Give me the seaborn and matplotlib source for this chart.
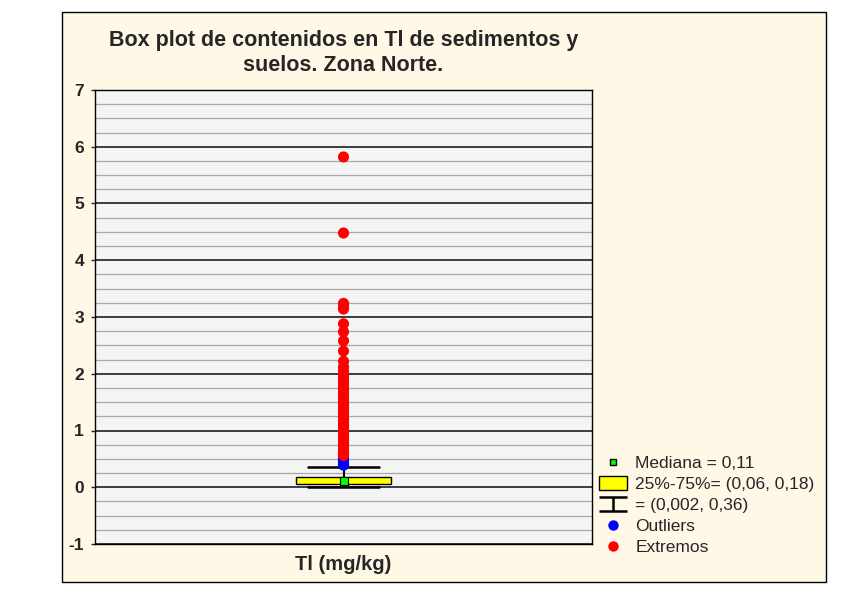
import matplotlib
matplotlib.use("Agg")
import matplotlib.pyplot as plt
import seaborn as sns
import pandas as pd
import numpy as np
from matplotlib.lines import Line2D
from matplotlib.patches import Patch, Rectangle
from matplotlib.path import Path

# --- data ---
median = 0.11
q1, q3 = 0.06, 0.18
whisk_lo, whisk_hi = 0.002, 0.36
outliers = [0.39, 0.41, 0.43, 0.45, 0.47, 0.49, 0.51, 0.53]
extremes = [5.82, 4.48, 3.24, 3.20, 3.14, 2.88, 2.74, 2.58, 2.40, 2.22,
            2.12, 2.05, 1.99, 1.94, 1.88, 1.84, 1.79, 1.75, 1.71, 1.67,
            1.62, 1.58, 1.55, 1.50, 1.46, 1.42, 1.39, 1.34, 1.30, 1.27,
            1.22, 1.18, 1.15, 1.10, 1.06, 1.03, 0.98, 0.95, 0.91, 0.87,
            0.84, 0.80, 0.77, 0.74, 0.71, 0.68, 0.65, 0.62, 0.60, 0.58,
            0.56]
var_label = "Tl (mg/kg)"

pts = pd.DataFrame({
    "x": [0] * (len(outliers) + len(extremes)),
    "valor": outliers + extremes,
    "tipo": ["Outliers"] * len(outliers) + ["Extremos"] * len(extremes),
})

sns.set_style("white")
plt.rcParams["font.family"] = ["Liberation Sans", "DejaVu Sans"]
plt.rcParams["axes.unicode_minus"] = False

fig = plt.figure(figsize=(8.49, 5.92), dpi=100)
fig.patch.set_facecolor("white")
fig.add_artist(Rectangle((62 / 849, 10 / 592), 764 / 849, 570 / 592,
                         transform=fig.transFigure, facecolor="#FFF8E7",
                         edgecolor="black", linewidth=1, zorder=-10))

ax = fig.add_axes([95 / 849, 48 / 592, 497 / 849, 454 / 592])
ax.set_facecolor("#F4F4F4")

# box
stats = [dict(med=median, q1=q1, q3=q3, whislo=whisk_lo, whishi=whisk_hi, fliers=[])]
ax.bxp(stats, positions=[0], widths=0.193, patch_artist=True, showfliers=False,
       boxprops=dict(facecolor="#FFFF00", edgecolor="black", linewidth=1),
       medianprops=dict(linewidth=0),
       whiskerprops=dict(color="black", linewidth=1.5),
       capprops=dict(color="black", linewidth=1.8), capwidths=0.143,
       zorder=3)

sns.scatterplot(data=pts, x="x", y="valor", hue="tipo",
                palette={"Outliers": "#0000FF", "Extremos": "#FF0000"},
                s=64, edgecolor="none", legend=False, ax=ax, zorder=4)
ax.scatter([0], [median], marker="s", s=32, color="#00FF00",
           edgecolor="black", linewidth=0.8, zorder=5)

ax.set_xlim(-0.5, 0.5)
ax.set_ylim(-1, 7)
ax.set_yticks(range(-1, 8))
ax.set_yticks(np.arange(-1, 7.01, 0.25), minor=True)
ax.set_xticks([])
ax.grid(which="minor", axis="y", color="#A8A8A8", linewidth=0.9, zorder=0)
ax.grid(which="major", axis="y", color="#3C3C3C", linewidth=1.4, zorder=0)
ax.set_axisbelow(True)
ax.tick_params(axis="y", which="major", left=True, length=3, width=1,
               labelsize=12.5, pad=5)
ax.tick_params(axis="y", which="minor", left=False)
for lab in ax.get_yticklabels():
    lab.set_fontweight("bold")
for sp in ax.spines.values():
    sp.set_color("black")
    sp.set_linewidth(1)

ax.set_xlabel(var_label, fontsize=14.5, fontweight="bold", labelpad=8)
ax.set_ylabel("")
ax.set_title("Box plot de contenidos en Tl de sedimentos y\nsuelos. Zona Norte.",
             fontsize=15.5, fontweight="bold", pad=14, linespacing=1.2)

# legend
whisk_marker = Path([(-1, 0.5), (1, 0.5), (0, 0.5), (0, -0.5), (-1, -0.5), (1, -0.5)],
                    [Path.MOVETO, Path.LINETO, Path.MOVETO, Path.LINETO,
                     Path.MOVETO, Path.LINETO])
handles = [
    Line2D([], [], marker="s", linestyle="none", markersize=5,
           markerfacecolor="#00FF00", markeredgecolor="black"),
    Patch(facecolor="#FFFF00", edgecolor="black"),
    Line2D([], [], marker=whisk_marker, linestyle="none", markersize=20,
           markerfacecolor="none", markeredgecolor="black", markeredgewidth=1.8),
    Line2D([], [], marker="o", linestyle="none", markersize=7.5,
           markerfacecolor="#0000FF", markeredgecolor="none"),
    Line2D([], [], marker="o", linestyle="none", markersize=7.5,
           markerfacecolor="#FF0000", markeredgecolor="none"),
]
labels = ["Mediana = 0,11", "25%-75%= (0,06, 0,18)", "= (0,002, 0,36)",
          "Outliers", "Extremos"]
fig.legend(handles, labels, loc="upper left",
           bbox_to_anchor=(599 / 849, 1 - 455 / 592), frameon=False,
           fontsize=12.5, handlelength=1.6, handleheight=0.9, handletextpad=0.5,
           labelspacing=0.28, borderpad=0, borderaxespad=0)

fig.savefig("out.png", dpi=100, facecolor="white")
